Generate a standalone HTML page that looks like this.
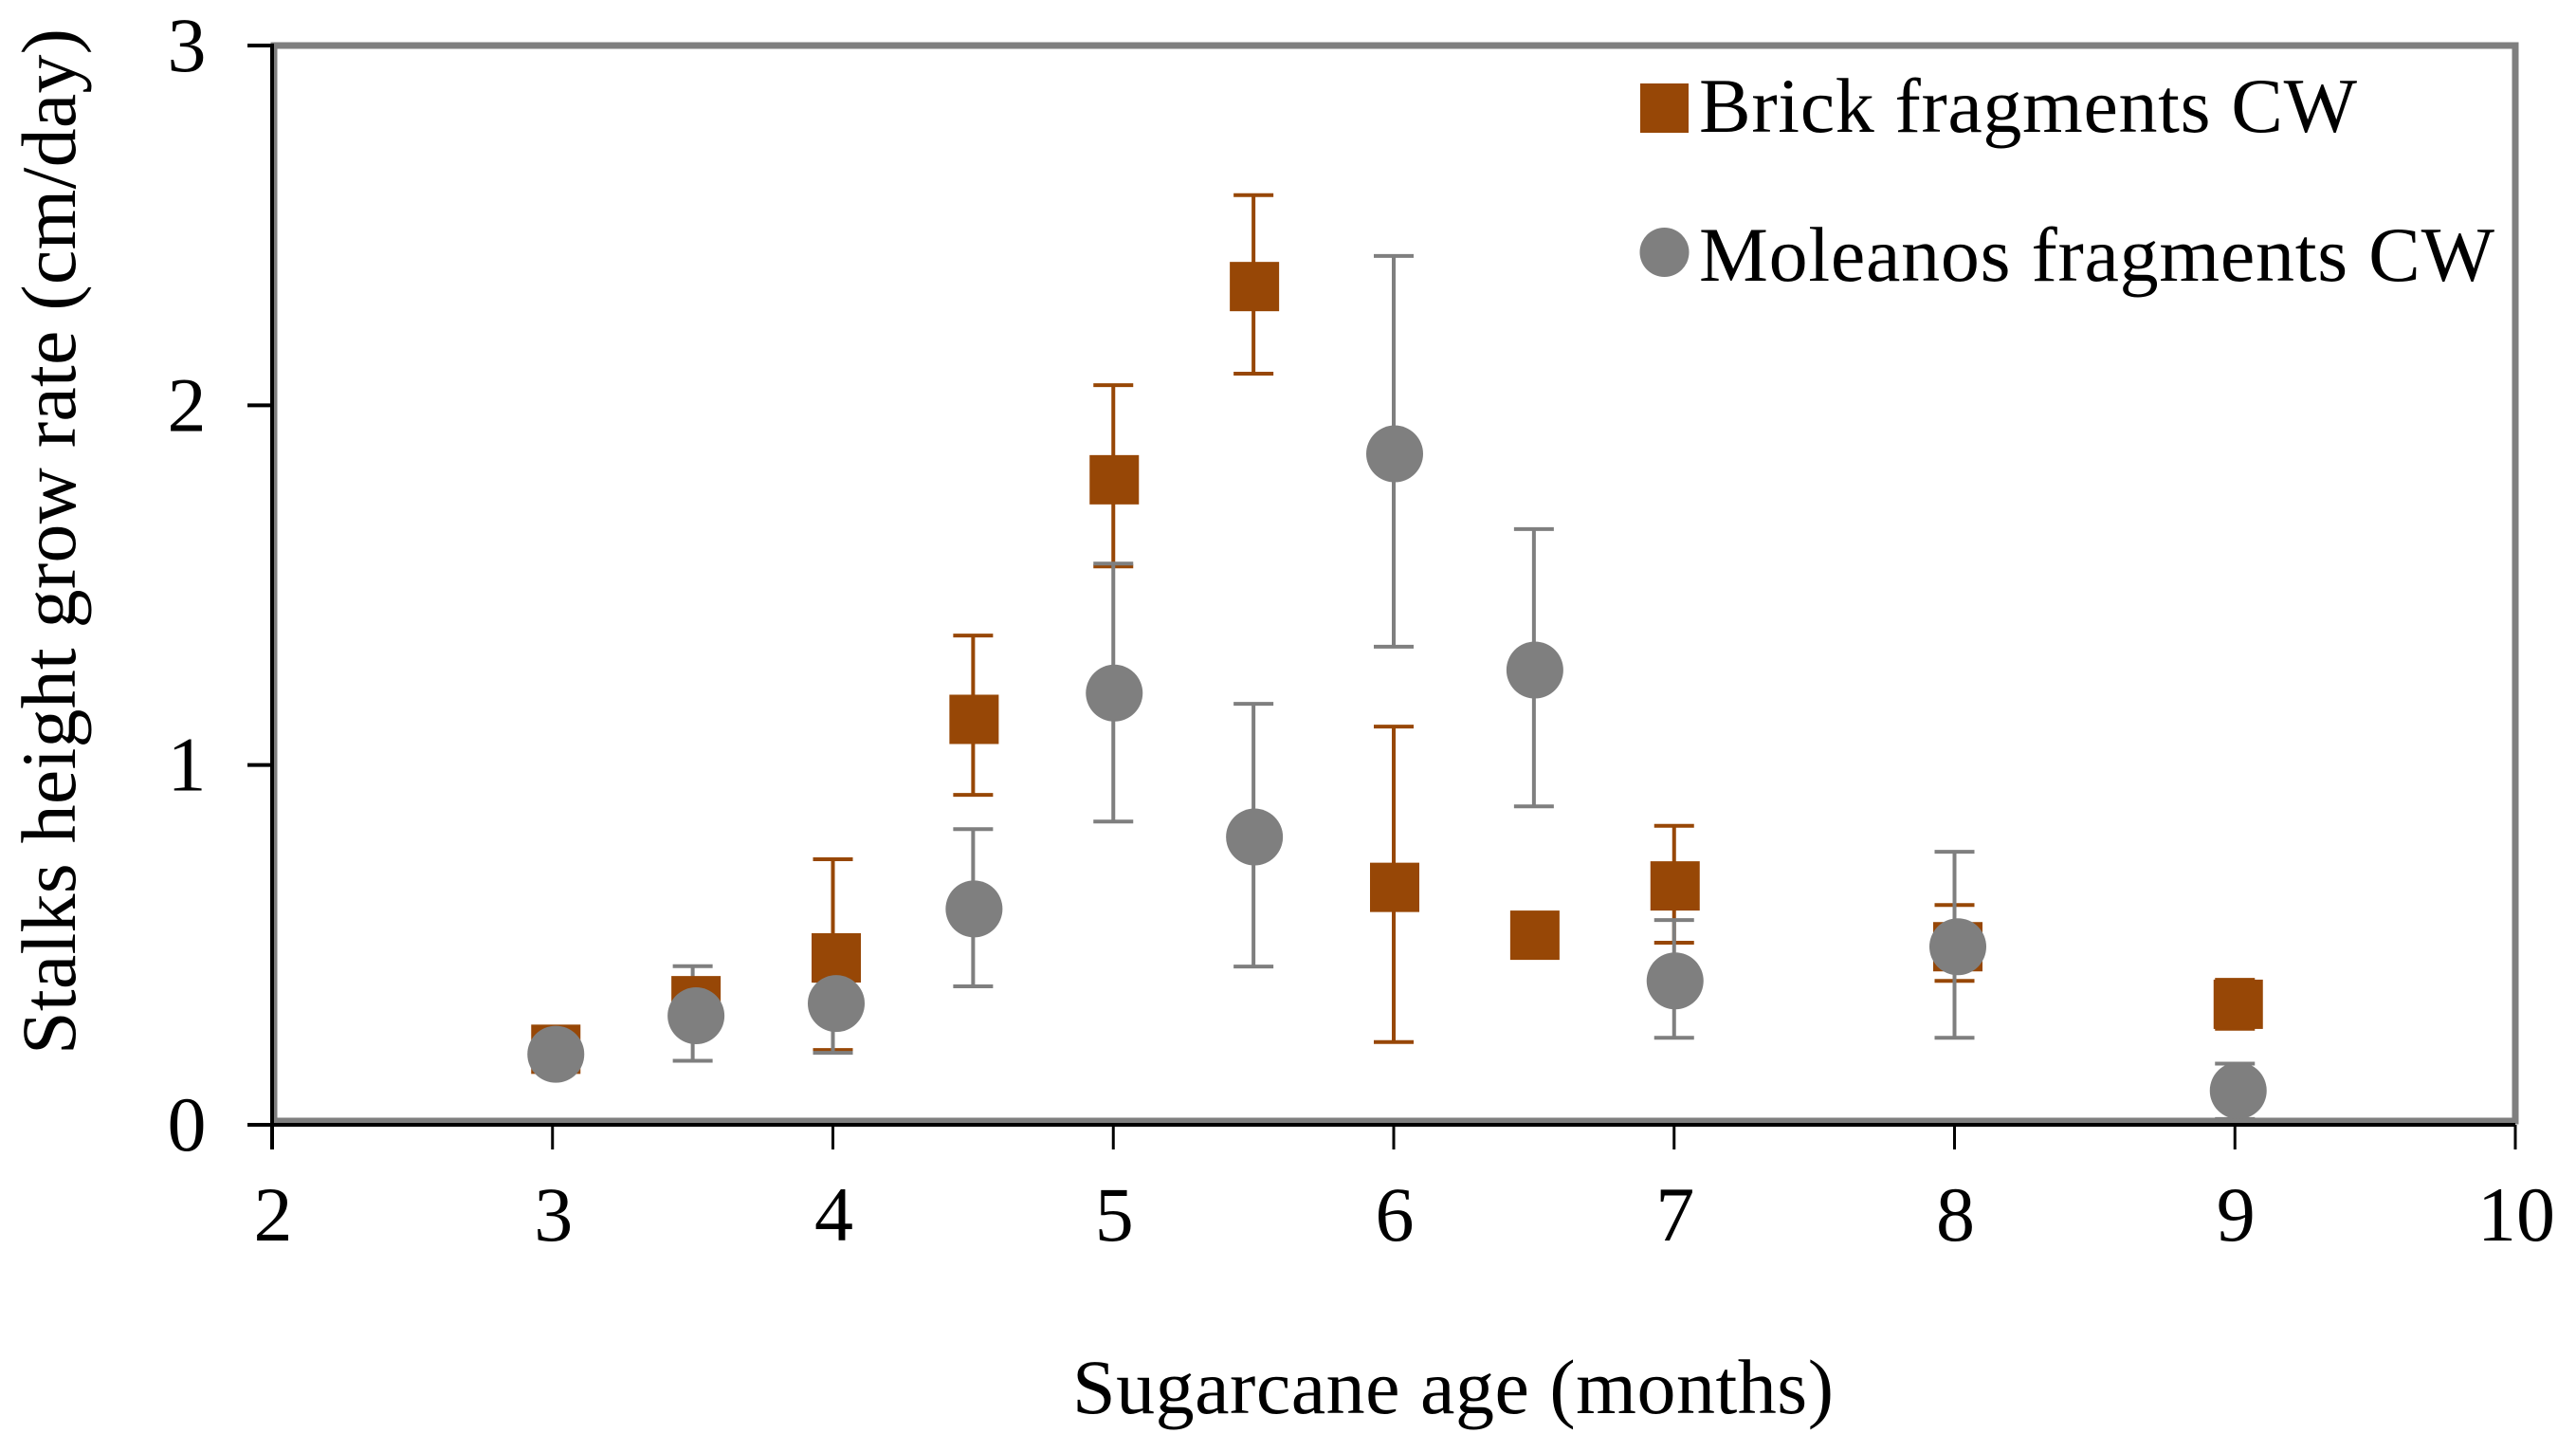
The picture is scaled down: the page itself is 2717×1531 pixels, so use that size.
<!DOCTYPE html>
<html lang="en">
<head>
<meta charset="utf-8">
<title>Stalks height grow rate vs sugarcane age</title>
<style>
html,body{margin:0;padding:0;background:#fff;width:2717px;height:1531px;overflow:hidden}
svg{display:block}
text{font-family:"Liberation Serif",serif;fill:#000;font-size:82px}
</style>
</head>
<body>
<svg id="chart" xmlns="http://www.w3.org/2000/svg" width="2717" height="1531" viewBox="0 0 2717 1531">
<rect x="0" y="0" width="2717" height="1531" fill="#fff"/>
<rect x="289" y="48" width="2364" height="1134" fill="none" stroke="#7f7f7f" stroke-width="7"/>
<g id="series"></g>
<g id="axes"></g>
<text transform="translate(79,1112) rotate(-90)" textLength="1082" lengthAdjust="spacing">Stalks height grow rate (cm/day)</text>
<text x="1131" y="1490" textLength="803" lengthAdjust="spacing">Sugarcane age (months)</text>
<g>
<rect x="1730" y="88" width="51" height="52" fill="#974706"/>
<text x="1792" y="139" textLength="694" lengthAdjust="spacing">Brick fragments CW</text>
<circle cx="1755.5" cy="266" r="26" fill="#7f7f7f"/>
<text x="1792" y="296" textLength="839" lengthAdjust="spacing">Moleanos fragments CW</text>
</g>
</svg>
<script>
var xTicks = [2, 3, 4, 5, 6, 7, 8, 9, 10];
var yTicks = [0, 1, 2, 3];

var brickAge = [3, 3.5, 4, 4.5, 5, 5.5, 6, 6.5, 7, 8, 9];
var brickMean = [0.21, 0.345, 0.464, 1.127, 1.793, 2.33, 0.66, 0.527, 0.664, 0.495, 0.335];
var brickUpper = [0.23, 0.38, 0.738, 1.36, 2.056, 2.584, 1.107, 0.55, 0.831, 0.611, 0.403];
var brickLower = [0.19, 0.31, 0.208, 0.917, 1.552, 2.088, 0.23, 0.50, 0.506, 0.40, 0.267];

var moleanosAge = [3, 3.5, 4, 4.5, 5, 5.5, 6, 6.5, 7, 8, 9];
var moleanosMean = [0.196, 0.303, 0.337, 0.60, 1.20, 0.80, 1.865, 1.264, 0.40, 0.495, 0.095];
var moleanosUpper = [0.22, 0.441, 0.40, 0.822, 1.56, 1.17, 2.415, 1.656, 0.569, 0.759, 0.17];
var moleanosLower = [0.17, 0.178, 0.20, 0.385, 0.843, 0.44, 1.329, 0.885, 0.242, 0.242, 0.016];

var SVG_NS = 'http://www.w3.org/2000/svg';
var BRICK = '#974706';
var GRAY = '#7f7f7f';
var X0 = 287, X1 = 2653, Y0 = 1186, Y1 = 48;

function xScale(v) { return X0 + (v - 2) * (X1 - X0) / 8; }
function yScale(v) { return Y0 - v * (Y0 - Y1) / 3; }
function markerX(age) { return xScale(age) + ((age < 4.5 || age > 7) ? 3.5 : 1); }

function make(tag, attrs, parent) {
  var el = document.createElementNS(SVG_NS, tag);
  for (var k in attrs) { el.setAttribute(k, attrs[k]); }
  parent.appendChild(el);
  return el;
}

function drawErrorBar(parent, age, upper, lower, color) {
  var x = xScale(age);
  var g = make('g', {}, parent);
  
  
  make('line', {x1: x, x2: x, y1: yScale(upper), y2: yScale(lower), stroke: color, 'stroke-width': 4}, g);
  make('line', {x1: x - 21, x2: x + 21, y1: yScale(upper), y2: yScale(upper), stroke: color, 'stroke-width': 4}, g);
  make('line', {x1: x - 21, x2: x + 21, y1: yScale(lower), y2: yScale(lower), stroke: color, 'stroke-width': 4}, g);
}

var seriesLayer = document.getElementById('series');
var axesLayer = document.getElementById('axes');

brickAge.forEach(function (age, i) {
  drawErrorBar(seriesLayer, age, brickUpper[i], brickLower[i], BRICK);
});

moleanosAge.forEach(function (age, i) {
  drawErrorBar(seriesLayer, age, moleanosUpper[i], moleanosLower[i], GRAY);
});

brickAge.forEach(function (age, i) {
  var square = make('rect', {x: markerX(age) - 26, y: yScale(brickMean[i]) - 26, width: 52, height: 52, fill: BRICK}, seriesLayer);
  
  
});

moleanosAge.forEach(function (age, i) {
  var dot = make('circle', {cx: markerX(age), cy: yScale(moleanosMean[i]), r: 30, fill: GRAY}, seriesLayer);
  
  
});

var xAxisLine = make('line', {x1: X0 - 26, x2: X1, y1: Y0, y2: Y0, stroke: '#000', 'stroke-width': 4}, axesLayer);



var yAxisLine = make('line', {x1: X0, x2: X0, y1: Y1 - 2, y2: Y0 + 26, stroke: '#000', 'stroke-width': 4}, axesLayer);



xTicks.forEach(function (t) {
  var x = xScale(t);
  var tick = make('line', {x1: x, x2: x, y1: Y0, y2: Y0 + 26, stroke: '#000', 'stroke-width': 3}, axesLayer);
  
  
  var label = make('text', {x: x + 1, y: 1308, 'text-anchor': 'middle'}, axesLayer);
  
  
  label.textContent = t;
});

yTicks.forEach(function (t) {
  var y = yScale(t);
  var tick = make('line', {x1: X0 - 26, x2: X0, y1: y, y2: y, stroke: '#000', 'stroke-width': 4}, axesLayer);
  
  
  var label = make('text', {x: 197, y: y + 27, 'text-anchor': 'middle'}, axesLayer);
  
  
  label.textContent = t;
});
</script>
</body>
</html>
